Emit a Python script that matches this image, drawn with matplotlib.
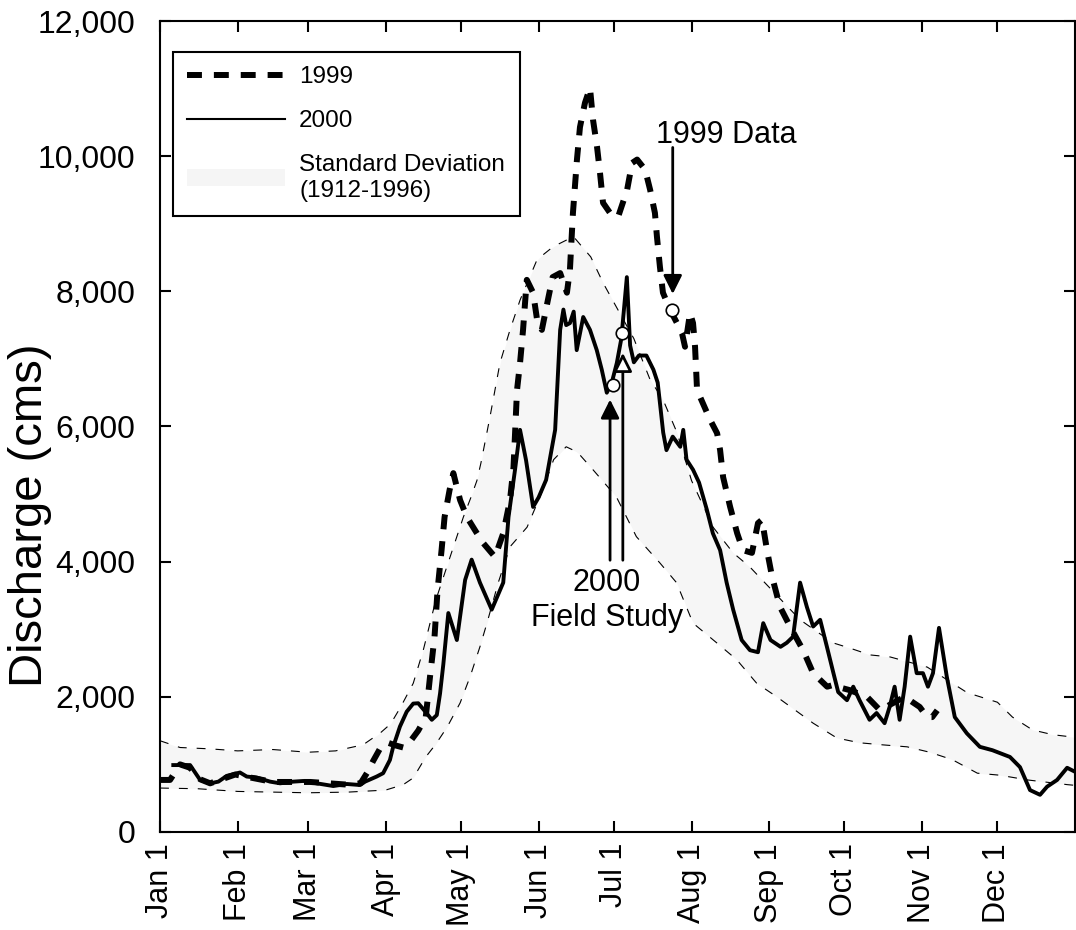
import numpy as np
import matplotlib
matplotlib.use("Agg")
import matplotlib.pyplot as plt
from matplotlib.lines import Line2D
from matplotlib.patches import Patch

plt.rcParams['font.family'] = ['Liberation Sans', 'DejaVu Sans']

# day of year / discharge (cms)
day_2000 = [5.3, 12, 16, 20, 23.3, 26.6, 31.9, 34.6, 38.6, 43.9, 47.9, 53.2, 57.2, 62.5,
            69.1, 74.5, 79.8, 81.8, 86.4, 89, 91.7, 93, 95.7, 98.4, 101, 103, 106.4, 108.4,
            110.4, 111.7, 113, 115, 118.4, 121.7, 124.3, 127.6, 132.3, 136.9, 139, 141.6,
            143.6, 146, 148.8, 151, 154, 157.6, 159.6, 160.9, 162, 163.5, 165, 166.2, 168.8,
            171.5, 174.2, 176.2, 178.2, 180.2, 182.2, 184, 186.2, 187.5, 189, 191, 194, 196.8,
            198.5, 200.7, 202, 204.5, 207.5, 208.7, 210, 212.6, 215, 218.1, 220.5, 223.4,
            226, 228.6, 232, 235.3, 238.5, 240.6, 243.5, 247.5, 250, 252.5, 255.3, 258,
            260.5, 263.3, 266, 268.6, 270.5, 274, 276.5, 279, 283, 285.8, 289, 291, 293,
            295, 297, 299.2, 301.8, 304.3, 306.3, 308.3, 310.7, 313.8, 317, 321.8, 327, 332,
            339, 343, 347, 351, 353.8, 357.8, 361.8, 365]
q_2000 = [990, 990, 770, 720, 745, 830, 880, 820, 805, 745, 720, 745, 755, 720,
          680, 710, 695, 745, 820, 870, 1065, 1260, 1560, 1780, 1900, 1905, 1755, 1660,
          1730, 2050, 2480, 3240, 2840, 3730, 4030, 3690, 3290, 3690, 4660, 5360,
          5950, 5500, 4810, 4950, 5210, 5950, 7430, 7730, 7500, 7530, 7700, 7130, 7620,
          7430, 7130, 6840, 6500, 6650, 6940, 7300, 8210, 7200, 6950, 7050, 7050, 6840,
          6650, 5910, 5650, 5850, 5700, 5950, 5510, 5360, 5170, 4770, 4420, 4170,
          3690, 3290, 2840, 2690, 2660, 3090, 2840, 2740, 2800, 2890, 3690, 3330,
          3040, 3140, 2740, 2350, 2070, 1950, 2150, 1950, 1660, 1760, 1610, 1850, 2150,
          1660, 2150, 2890, 2350, 2350, 2150, 2350, 3020, 2300, 1700, 1460, 1260, 1210,
          1110, 960, 620, 550, 670, 770, 950, 890]

day_1999 = [0, 4, 8, 12, 16, 20, 30, 45, 60, 75, 80, 83, 85, 88, 91, 94, 97, 100, 103,
            106, 107.7, 109.5, 110.7, 112.3, 113.5, 115.5, 117, 119.7, 122.4, 126.4, 128.8,
            133.6, 136.9, 139.6, 141, 142.4, 143.6, 144.8, 145.6, 146.3, 148.8, 150.4,
            152.3, 154.7, 156.6, 159.6, 162.3, 163.5, 164.7, 166.3, 167.5, 169.5, 171.5,
            172.7, 174.3, 175.5, 176.7, 179.5, 182.7, 186.3, 188.3, 190.3, 193.5, 195.5,
            197.4, 198.2, 199.4, 200.6, 203.4, 206.2, 208.2, 209.4, 211.4, 212.6, 213.4,
            214.2, 219.4, 222.2, 223.4, 224.6, 227.4, 230.2, 232.5, 236.1, 238.5, 240.1,
            242.1, 244.1, 247.3, 251.3, 256.5, 260.5, 266.1, 268, 275, 282, 287.2, 291,
            297, 299, 303, 306, 308, 310]
q_1999 = [770, 770, 1000, 950, 780, 720, 850, 740, 740, 700, 720, 900, 1050, 1250, 1320,
          1280, 1250, 1350, 1500, 1700, 2300, 2890, 3580, 4170, 4660, 5060, 5310, 4910,
          4660, 4420, 4280, 4070, 4420, 4910, 5400, 6540, 6940, 7430, 7830, 8170, 7980,
          7580, 7430, 7870, 8210, 8270, 7980, 8320, 9160, 9950, 10430, 10790, 11010,
          10540, 10140, 9750, 9310, 9160, 9100, 9500, 9900, 9950, 9800, 9500, 9160, 8810,
          8360, 7980, 7730, 7530, 7380, 7180, 7680, 7530, 7180, 6540, 6100, 5900, 5650,
          5250, 4810, 4420, 4170, 4130, 4570, 4620, 4170, 3780, 3330, 3040, 2690, 2350,
          2150, 2170, 2100, 2000, 1800, 1880, 2000, 1950, 1850, 1700, 1700, 1800]

day_sd_hi = [0, 8, 20, 31, 45, 59, 70, 81, 88, 92, 96, 101, 105, 110, 115.7, 121, 124,
             126.4, 128, 131.6, 135.6, 139.6, 143.6, 150.4, 156.8, 164.9, 171.8, 176.8,
             182, 189, 195.5, 200.6, 206.2, 212, 220.6, 228.6, 235.3, 255.3, 268.3, 275.2,
             283.2, 291.2, 306, 314, 322, 334, 340, 348, 356, 365]
sd_hi = [1350, 1250, 1230, 1200, 1220, 1180, 1200, 1290, 1470, 1600, 1850, 2200, 2690,
         3430, 4070, 4660, 4950, 5200, 5460, 6140, 6940, 7430, 7870, 8470, 8660, 8810,
         8510, 8120, 7770, 7300, 6690, 6400, 5910, 5200, 4510, 4130, 3920, 3140, 2800,
         2720, 2620, 2590, 2440, 2250, 2060, 1920, 1700, 1510, 1440, 1400]

day_sd_lo = [0, 15, 31, 45, 59, 75, 90, 97, 101, 106, 110, 114.5, 119.7, 123.7, 127.6,
             130.4, 135, 139.6, 146.4, 152, 157, 162, 166.5, 172.7, 182, 190, 199.4, 206,
             212.6, 222, 230, 238, 246, 260.5, 270, 279, 288, 298, 307, 316, 326, 335,
             346, 362, 365]
sd_lo = [650, 640, 600, 590, 580, 590, 620, 700, 800, 1110, 1300, 1550, 1910, 2300, 2740,
         3090, 3700, 4220, 4510, 5000, 5510, 5700, 5620, 5360, 4960, 4370, 3980, 3690,
         3090, 2800, 2550, 2200, 2000, 1610, 1390, 1320, 1290, 1260, 1180, 1070, 870, 840,
         770, 700, 690]

field_day = [180.7, 184.2]
field_q = [6620, 7380]
data99_day = [204.1]
data99_q = [7730]

month_days = [0, 31, 59, 90, 120, 151, 181, 212, 243, 273, 304, 334]
month_labels = ['Jan 1', 'Feb 1', 'Mar 1', 'Apr 1', 'May 1', 'Jun 1', 'Jul 1',
                'Aug 1', 'Sep 1', 'Oct 1', 'Nov 1', 'Dec 1']
y_ticks = [0, 2000, 4000, 6000, 8000, 10000, 12000]

fig = plt.figure(figsize=(10.76, 9.3), dpi=100)
ax = fig.add_axes([0.1487, 0.1054, 0.8505, 0.872])

# standard deviation band
grid = np.arange(0, 366)
hi = np.interp(grid, day_sd_hi, sd_hi)
lo = np.interp(grid, day_sd_lo, sd_lo)
ax.fill_between(grid, lo, hi, color='0.965', lw=0, zorder=1)
ax.plot(day_sd_hi, sd_hi, color='k', lw=0.8, ls=(0, (8, 9)), zorder=2)
ax.plot(day_sd_lo, sd_lo, color='k', lw=0.8, ls=(0, (8, 9)), zorder=2)

ax.plot(day_1999, q_1999, color='k', lw=4.3, ls=(0, (2.5, 2)), zorder=3)
ax.plot(day_2000, q_2000, color='k', lw=2.8, zorder=4)

ax.plot(field_day, field_q, 'o', ms=9, mfc='white', mec='k', mew=1.2, zorder=6)
ax.plot(data99_day, data99_q, 'o', ms=9, mfc='white', mec='k', mew=1.2, zorder=6)

# annotations
ax.annotate('', xy=(204.5, 7920), xytext=(204.5, 10170),
            arrowprops=dict(arrowstyle='-|>', mutation_scale=28, lw=2, color='k'), zorder=7)
ax.text(226, 10200, '1999 Data', fontsize=22, ha='center', va='baseline')
ax.annotate('', xy=(179.5, 6440), xytext=(179.5, 3980),
            arrowprops=dict(arrowstyle='-|>', mutation_scale=28, lw=2, color='k'), zorder=7)
ax.annotate('', xy=(184.6, 7130), xytext=(184.6, 3980),
            arrowprops=dict(arrowstyle='-|>', mutation_scale=28, lw=2, fc='white', ec='k'),
            zorder=7)
ax.text(178.3, 3900, '2000\nField Study', fontsize=22, ha='center', va='top',
        linespacing=1.2)

ax.set_xlim(0, 365)
ax.set_ylim(0, 12000)
ax.set_xticks(month_days)
ax.set_xticklabels(month_labels, rotation=90, fontsize=22)
ax.set_yticks(y_ticks)
ax.set_yticklabels([f'{v:,}' for v in y_ticks], fontsize=23)
ax.set_ylabel('Discharge (cms)', fontsize=34)
ax.yaxis.set_label_coords(-0.118, 0.39)
ax.tick_params(direction='in', length=8, width=1.5, top=True, right=True)
ax.tick_params(axis='y', pad=18)
ax.tick_params(axis='x', pad=8)
for s in ax.spines.values():
    s.set_linewidth(1.5)

handles = [Line2D([], [], color='k', lw=4.3, ls=(0, (2.5, 2))),
           Line2D([], [], color='k', lw=1.5),
           Patch(facecolor='0.96', edgecolor='none')]
leg = ax.legend(handles, ['1999', '2000', 'Standard Deviation\n(1912-1996)'],
                loc='upper left', bbox_to_anchor=(0.014, 0.962), borderaxespad=0,
                fontsize=17.5, handlelength=4.0, handletextpad=0.6, labelspacing=0.9,
                borderpad=0.6, fancybox=False, framealpha=1, edgecolor='k')
leg.get_frame().set_linewidth(1.5)

fig.savefig('out.png', dpi=100)
